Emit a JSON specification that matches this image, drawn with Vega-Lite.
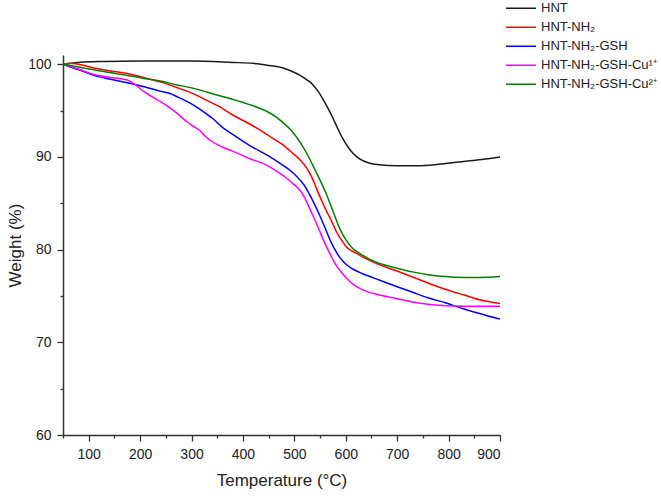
{
  "$schema": "https://vega.github.io/schema/vega-lite/v6.json",
  "width": 437,
  "height": 380,
  "autosize": {"type": "none"},
  "padding": {"left": 63, "top": 55, "right": 161, "bottom": 63},
  "background": "white",
  "config": {
    "view": {"stroke": null},
    "font": "Liberation Sans",
    "axis": {
      "domainColor": "#333333",
      "domainWidth": 1.5,
      "tickColor": "#333333",
      "tickWidth": 1.3,
      "labelColor": "#222222",
      "labelFont": "Liberation Sans",
      "labelFontSize": 14,
      "titleFont": "Liberation Sans",
      "titleFontSize": 17,
      "titleFontWeight": "normal",
      "titleColor": "#222222",
      "grid": false
    },
    "legend": {
      "labelFont": "Liberation Sans",
      "labelFontSize": 13,
      "labelColor": "#222222"
    }
  },
  "data": {
    "values": [
      {"sample": "HNT", "t": 50, "w": 100.0},
      {"sample": "HNT", "t": 80, "w": 100.2},
      {"sample": "HNT", "t": 130, "w": 100.3},
      {"sample": "HNT", "t": 200, "w": 100.35},
      {"sample": "HNT", "t": 300, "w": 100.35},
      {"sample": "HNT", "t": 380, "w": 100.2},
      {"sample": "HNT", "t": 420, "w": 100.1},
      {"sample": "HNT", "t": 447, "w": 99.9},
      {"sample": "HNT", "t": 478, "w": 99.6},
      {"sample": "HNT", "t": 495, "w": 99.25},
      {"sample": "HNT", "t": 511, "w": 98.8},
      {"sample": "HNT", "t": 525, "w": 98.3},
      {"sample": "HNT", "t": 536, "w": 97.8},
      {"sample": "HNT", "t": 546, "w": 97.1},
      {"sample": "HNT", "t": 555, "w": 96.3},
      {"sample": "HNT", "t": 565, "w": 95.3},
      {"sample": "HNT", "t": 575, "w": 94.2},
      {"sample": "HNT", "t": 585, "w": 93.0},
      {"sample": "HNT", "t": 594, "w": 92.0},
      {"sample": "HNT", "t": 604, "w": 91.1},
      {"sample": "HNT", "t": 614, "w": 90.4},
      {"sample": "HNT", "t": 627, "w": 89.8},
      {"sample": "HNT", "t": 645, "w": 89.35},
      {"sample": "HNT", "t": 665, "w": 89.15},
      {"sample": "HNT", "t": 700, "w": 89.05},
      {"sample": "HNT", "t": 740, "w": 89.05},
      {"sample": "HNT", "t": 780, "w": 89.2},
      {"sample": "HNT", "t": 820, "w": 89.45},
      {"sample": "HNT", "t": 860, "w": 89.7},
      {"sample": "HNT", "t": 900, "w": 90.0},

      {"sample": "HNT-NH₂", "t": 50, "w": 100.0},
      {"sample": "HNT-NH₂", "t": 65, "w": 100.1},
      {"sample": "HNT-NH₂", "t": 80, "w": 100.0},
      {"sample": "HNT-NH₂", "t": 110, "w": 99.6},
      {"sample": "HNT-NH₂", "t": 140, "w": 99.3},
      {"sample": "HNT-NH₂", "t": 175, "w": 99.0},
      {"sample": "HNT-NH₂", "t": 205, "w": 98.6},
      {"sample": "HNT-NH₂", "t": 239, "w": 98.1},
      {"sample": "HNT-NH₂", "t": 271, "w": 97.5},
      {"sample": "HNT-NH₂", "t": 304, "w": 96.8},
      {"sample": "HNT-NH₂", "t": 330, "w": 96.1},
      {"sample": "HNT-NH₂", "t": 355, "w": 95.4},
      {"sample": "HNT-NH₂", "t": 381, "w": 94.5},
      {"sample": "HNT-NH₂", "t": 415, "w": 93.5},
      {"sample": "HNT-NH₂", "t": 447, "w": 92.4},
      {"sample": "HNT-NH₂", "t": 475, "w": 91.4},
      {"sample": "HNT-NH₂", "t": 497, "w": 90.4},
      {"sample": "HNT-NH₂", "t": 511, "w": 89.7},
      {"sample": "HNT-NH₂", "t": 524, "w": 88.8},
      {"sample": "HNT-NH₂", "t": 534, "w": 87.8},
      {"sample": "HNT-NH₂", "t": 543, "w": 86.6},
      {"sample": "HNT-NH₂", "t": 553, "w": 85.3},
      {"sample": "HNT-NH₂", "t": 563, "w": 84.1},
      {"sample": "HNT-NH₂", "t": 573, "w": 83.0},
      {"sample": "HNT-NH₂", "t": 582, "w": 81.9},
      {"sample": "HNT-NH₂", "t": 592, "w": 81.0},
      {"sample": "HNT-NH₂", "t": 601, "w": 80.3},
      {"sample": "HNT-NH₂", "t": 621, "w": 79.6},
      {"sample": "HNT-NH₂", "t": 640, "w": 79.0},
      {"sample": "HNT-NH₂", "t": 666, "w": 78.35},
      {"sample": "HNT-NH₂", "t": 700, "w": 77.7},
      {"sample": "HNT-NH₂", "t": 730, "w": 77.05},
      {"sample": "HNT-NH₂", "t": 760, "w": 76.4},
      {"sample": "HNT-NH₂", "t": 795, "w": 75.7},
      {"sample": "HNT-NH₂", "t": 830, "w": 75.1},
      {"sample": "HNT-NH₂", "t": 860, "w": 74.6},
      {"sample": "HNT-NH₂", "t": 900, "w": 74.2},

      {"sample": "HNT-NH₂-GSH", "t": 50, "w": 100.0},
      {"sample": "HNT-NH₂-GSH", "t": 70, "w": 99.6},
      {"sample": "HNT-NH₂-GSH", "t": 84, "w": 99.35},
      {"sample": "HNT-NH₂-GSH", "t": 110, "w": 98.8},
      {"sample": "HNT-NH₂-GSH", "t": 140, "w": 98.4},
      {"sample": "HNT-NH₂-GSH", "t": 175, "w": 98.0},
      {"sample": "HNT-NH₂-GSH", "t": 206, "w": 97.6},
      {"sample": "HNT-NH₂-GSH", "t": 239, "w": 97.1},
      {"sample": "HNT-NH₂-GSH", "t": 258, "w": 96.85},
      {"sample": "HNT-NH₂-GSH", "t": 272, "w": 96.5},
      {"sample": "HNT-NH₂-GSH", "t": 291, "w": 96.0},
      {"sample": "HNT-NH₂-GSH", "t": 304, "w": 95.6},
      {"sample": "HNT-NH₂-GSH", "t": 323, "w": 94.9},
      {"sample": "HNT-NH₂-GSH", "t": 340, "w": 94.2},
      {"sample": "HNT-NH₂-GSH", "t": 360, "w": 93.2},
      {"sample": "HNT-NH₂-GSH", "t": 381, "w": 92.4},
      {"sample": "HNT-NH₂-GSH", "t": 414, "w": 91.2},
      {"sample": "HNT-NH₂-GSH", "t": 447, "w": 90.2},
      {"sample": "HNT-NH₂-GSH", "t": 478, "w": 89.1},
      {"sample": "HNT-NH₂-GSH", "t": 495, "w": 88.4},
      {"sample": "HNT-NH₂-GSH", "t": 511, "w": 87.5},
      {"sample": "HNT-NH₂-GSH", "t": 521, "w": 86.8},
      {"sample": "HNT-NH₂-GSH", "t": 530, "w": 85.9},
      {"sample": "HNT-NH₂-GSH", "t": 540, "w": 84.8},
      {"sample": "HNT-NH₂-GSH", "t": 550, "w": 83.6},
      {"sample": "HNT-NH₂-GSH", "t": 560, "w": 82.3},
      {"sample": "HNT-NH₂-GSH", "t": 569, "w": 81.1},
      {"sample": "HNT-NH₂-GSH", "t": 582, "w": 79.7},
      {"sample": "HNT-NH₂-GSH", "t": 592, "w": 78.9},
      {"sample": "HNT-NH₂-GSH", "t": 601, "w": 78.4},
      {"sample": "HNT-NH₂-GSH", "t": 617, "w": 77.8},
      {"sample": "HNT-NH₂-GSH", "t": 633, "w": 77.4},
      {"sample": "HNT-NH₂-GSH", "t": 666, "w": 76.7},
      {"sample": "HNT-NH₂-GSH", "t": 700, "w": 76.0},
      {"sample": "HNT-NH₂-GSH", "t": 730, "w": 75.4},
      {"sample": "HNT-NH₂-GSH", "t": 760, "w": 74.8},
      {"sample": "HNT-NH₂-GSH", "t": 795, "w": 74.25},
      {"sample": "HNT-NH₂-GSH", "t": 830, "w": 73.6},
      {"sample": "HNT-NH₂-GSH", "t": 860, "w": 73.1},
      {"sample": "HNT-NH₂-GSH", "t": 900, "w": 72.5},

      {"sample": "HNT-NH₂-GSH-Cu¹⁺", "t": 50, "w": 100.0},
      {"sample": "HNT-NH₂-GSH-Cu¹⁺", "t": 84, "w": 99.4},
      {"sample": "HNT-NH₂-GSH-Cu¹⁺", "t": 110, "w": 98.9},
      {"sample": "HNT-NH₂-GSH-Cu¹⁺", "t": 140, "w": 98.6},
      {"sample": "HNT-NH₂-GSH-Cu¹⁺", "t": 175, "w": 98.3},
      {"sample": "HNT-NH₂-GSH-Cu¹⁺", "t": 188, "w": 97.9},
      {"sample": "HNT-NH₂-GSH-Cu¹⁺", "t": 206, "w": 97.1},
      {"sample": "HNT-NH₂-GSH-Cu¹⁺", "t": 226, "w": 96.4},
      {"sample": "HNT-NH₂-GSH-Cu¹⁺", "t": 239, "w": 96.0},
      {"sample": "HNT-NH₂-GSH-Cu¹⁺", "t": 258, "w": 95.3},
      {"sample": "HNT-NH₂-GSH-Cu¹⁺", "t": 272, "w": 94.7},
      {"sample": "HNT-NH₂-GSH-Cu¹⁺", "t": 291, "w": 93.8},
      {"sample": "HNT-NH₂-GSH-Cu¹⁺", "t": 304, "w": 93.3},
      {"sample": "HNT-NH₂-GSH-Cu¹⁺", "t": 317, "w": 92.8},
      {"sample": "HNT-NH₂-GSH-Cu¹⁺", "t": 327, "w": 92.2},
      {"sample": "HNT-NH₂-GSH-Cu¹⁺", "t": 336, "w": 91.8},
      {"sample": "HNT-NH₂-GSH-Cu¹⁺", "t": 355, "w": 91.2},
      {"sample": "HNT-NH₂-GSH-Cu¹⁺", "t": 381, "w": 90.6},
      {"sample": "HNT-NH₂-GSH-Cu¹⁺", "t": 414, "w": 89.8},
      {"sample": "HNT-NH₂-GSH-Cu¹⁺", "t": 447, "w": 89.1},
      {"sample": "HNT-NH₂-GSH-Cu¹⁺", "t": 470, "w": 88.3},
      {"sample": "HNT-NH₂-GSH-Cu¹⁺", "t": 485, "w": 87.7},
      {"sample": "HNT-NH₂-GSH-Cu¹⁺", "t": 498, "w": 87.1},
      {"sample": "HNT-NH₂-GSH-Cu¹⁺", "t": 511, "w": 86.4},
      {"sample": "HNT-NH₂-GSH-Cu¹⁺", "t": 521, "w": 85.5},
      {"sample": "HNT-NH₂-GSH-Cu¹⁺", "t": 530, "w": 84.4},
      {"sample": "HNT-NH₂-GSH-Cu¹⁺", "t": 540, "w": 83.2},
      {"sample": "HNT-NH₂-GSH-Cu¹⁺", "t": 550, "w": 81.9},
      {"sample": "HNT-NH₂-GSH-Cu¹⁺", "t": 560, "w": 80.6},
      {"sample": "HNT-NH₂-GSH-Cu¹⁺", "t": 569, "w": 79.6},
      {"sample": "HNT-NH₂-GSH-Cu¹⁺", "t": 578, "w": 78.6},
      {"sample": "HNT-NH₂-GSH-Cu¹⁺", "t": 588, "w": 77.8},
      {"sample": "HNT-NH₂-GSH-Cu¹⁺", "t": 600, "w": 77.0},
      {"sample": "HNT-NH₂-GSH-Cu¹⁺", "t": 621, "w": 76.0},
      {"sample": "HNT-NH₂-GSH-Cu¹⁺", "t": 640, "w": 75.5},
      {"sample": "HNT-NH₂-GSH-Cu¹⁺", "t": 666, "w": 75.1},
      {"sample": "HNT-NH₂-GSH-Cu¹⁺", "t": 700, "w": 74.7},
      {"sample": "HNT-NH₂-GSH-Cu¹⁺", "t": 730, "w": 74.35},
      {"sample": "HNT-NH₂-GSH-Cu¹⁺", "t": 760, "w": 74.1},
      {"sample": "HNT-NH₂-GSH-Cu¹⁺", "t": 795, "w": 73.95},
      {"sample": "HNT-NH₂-GSH-Cu¹⁺", "t": 830, "w": 73.9},
      {"sample": "HNT-NH₂-GSH-Cu¹⁺", "t": 860, "w": 73.9},
      {"sample": "HNT-NH₂-GSH-Cu¹⁺", "t": 900, "w": 73.9},

      {"sample": "HNT-NH₂-GSH-Cu²⁺", "t": 50, "w": 100.0},
      {"sample": "HNT-NH₂-GSH-Cu²⁺", "t": 80, "w": 99.7},
      {"sample": "HNT-NH₂-GSH-Cu²⁺", "t": 110, "w": 99.4},
      {"sample": "HNT-NH₂-GSH-Cu²⁺", "t": 140, "w": 99.1},
      {"sample": "HNT-NH₂-GSH-Cu²⁺", "t": 175, "w": 98.8},
      {"sample": "HNT-NH₂-GSH-Cu²⁺", "t": 205, "w": 98.5},
      {"sample": "HNT-NH₂-GSH-Cu²⁺", "t": 239, "w": 98.2},
      {"sample": "HNT-NH₂-GSH-Cu²⁺", "t": 270, "w": 97.8},
      {"sample": "HNT-NH₂-GSH-Cu²⁺", "t": 304, "w": 97.4},
      {"sample": "HNT-NH₂-GSH-Cu²⁺", "t": 330, "w": 97.0},
      {"sample": "HNT-NH₂-GSH-Cu²⁺", "t": 355, "w": 96.6},
      {"sample": "HNT-NH₂-GSH-Cu²⁺", "t": 381, "w": 96.2},
      {"sample": "HNT-NH₂-GSH-Cu²⁺", "t": 410, "w": 95.7},
      {"sample": "HNT-NH₂-GSH-Cu²⁺", "t": 447, "w": 94.9},
      {"sample": "HNT-NH₂-GSH-Cu²⁺", "t": 465, "w": 94.3},
      {"sample": "HNT-NH₂-GSH-Cu²⁺", "t": 478, "w": 93.7},
      {"sample": "HNT-NH₂-GSH-Cu²⁺", "t": 495, "w": 92.8},
      {"sample": "HNT-NH₂-GSH-Cu²⁺", "t": 511, "w": 91.6},
      {"sample": "HNT-NH₂-GSH-Cu²⁺", "t": 524, "w": 90.4},
      {"sample": "HNT-NH₂-GSH-Cu²⁺", "t": 536, "w": 89.1},
      {"sample": "HNT-NH₂-GSH-Cu²⁺", "t": 550, "w": 87.5},
      {"sample": "HNT-NH₂-GSH-Cu²⁺", "t": 563, "w": 85.9},
      {"sample": "HNT-NH₂-GSH-Cu²⁺", "t": 576, "w": 84.0},
      {"sample": "HNT-NH₂-GSH-Cu²⁺", "t": 588, "w": 82.3},
      {"sample": "HNT-NH₂-GSH-Cu²⁺", "t": 601, "w": 81.0},
      {"sample": "HNT-NH₂-GSH-Cu²⁺", "t": 614, "w": 80.1},
      {"sample": "HNT-NH₂-GSH-Cu²⁺", "t": 627, "w": 79.6},
      {"sample": "HNT-NH₂-GSH-Cu²⁺", "t": 645, "w": 79.0},
      {"sample": "HNT-NH₂-GSH-Cu²⁺", "t": 666, "w": 78.5},
      {"sample": "HNT-NH₂-GSH-Cu²⁺", "t": 700, "w": 78.0},
      {"sample": "HNT-NH₂-GSH-Cu²⁺", "t": 730, "w": 77.6},
      {"sample": "HNT-NH₂-GSH-Cu²⁺", "t": 760, "w": 77.3},
      {"sample": "HNT-NH₂-GSH-Cu²⁺", "t": 795, "w": 77.1},
      {"sample": "HNT-NH₂-GSH-Cu²⁺", "t": 830, "w": 77.0},
      {"sample": "HNT-NH₂-GSH-Cu²⁺", "t": 860, "w": 77.0},
      {"sample": "HNT-NH₂-GSH-Cu²⁺", "t": 900, "w": 77.1}
    ]
  },
  "mark": {"type": "line", "strokeWidth": 1.5, "interpolate": "monotone"},
  "encoding": {
    "x": {
      "field": "t",
      "type": "quantitative",
      "title": "Temperature (°C)",
      "scale": {"domain": [50, 900], "nice": false, "zero": false},
      "axis": {
        "values": [50, 100, 150, 200, 250, 300, 350, 400, 450, 500, 550, 600, 650, 700, 750, 800, 850, 900],
        "labelExpr": "datum.value % 100 === 0 ? datum.label : ''",
        "tickSize": {"condition": {"test": "datum.value % 100 === 0", "value": 6}, "value": 3},
        "labelPadding": 6,
        "titlePadding": 11
      }
    },
    "y": {
      "field": "w",
      "type": "quantitative",
      "title": "Weight (%)",
      "scale": {"domain": [60, 101], "nice": false, "zero": false},
      "axis": {
        "values": [60, 65, 70, 75, 80, 85, 90, 95, 100],
        "labelExpr": "datum.value % 10 === 0 ? datum.label : ''",
        "tickSize": {"condition": {"test": "datum.value % 10 === 0", "value": 6}, "value": 3},
        "labelPadding": 6,
        "titlePadding": 3
      }
    },
    "color": {
      "field": "sample",
      "type": "nominal",
      "sort": null,
      "scale": {
        "domain": ["HNT", "HNT-NH₂", "HNT-NH₂-GSH", "HNT-NH₂-GSH-Cu¹⁺", "HNT-NH₂-GSH-Cu²⁺"],
        "range": ["#1a1a1a", "#ff0000", "#0000ff", "#ff00ff", "#008000"]
      },
      "legend": {
        "title": null,
        "orient": "none",
        "legendX": 442,
        "legendY": -55,
        "symbolType": "stroke",
        "symbolSize": 900,
        "symbolStrokeWidth": 1.5,
        "labelOffset": 4,
        "clipHeight": 16.4,
        "rowPadding": 2
      }
    }
  }
}
